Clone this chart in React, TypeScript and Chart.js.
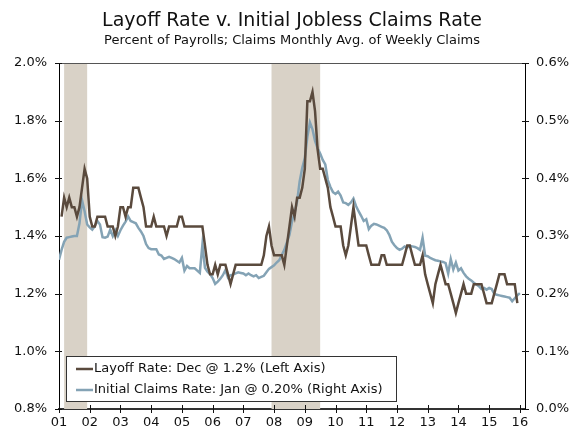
import React, { useEffect, useRef } from 'react';
import { Chart, registerables } from 'chart.js';

Chart.register(...registerables);

const FONT = '"DejaVu Sans", Verdana, sans-serif';

const TITLE = 'Layoff Rate v. Initial Jobless Claims Rate';
const SUBTITLE = 'Percent of Payrolls; Claims Monthly Avg. of Weekly Claims';
const LAYOFF_LABEL = 'Layoff Rate: Dec @ 1.2% (Left Axis)';
const CLAIMS_LABEL = 'Initial Claims Rate: Jan @ 0.20% (Right Axis)';

const FIRST_YEAR = 2001;
const YEAR_TICKS = [2001, 2002, 2003, 2004, 2005, 2006, 2007, 2008, 2009, 2010, 2011, 2012, 2013, 2014, 2015, 2016];
const X_MAX = 2016 + 2 / 12;
const LEFT_TICKS = [0.8, 1.0, 1.2, 1.4, 1.6, 1.8, 2.0];
const RIGHT_TICKS = [0, 0.1, 0.2, 0.3, 0.4, 0.5, 0.6];
const RECESSIONS: [number, number][] = [
  [2001 + 2 / 12, 2001 + 11 / 12],
  [2007 + 11 / 12, 2009 + 6 / 12],
];

// Layoff rate, % of payrolls (monthly, starting Feb 2001)
const LAYOFF_FIRST_MONTH = 1;
const layoffRate = [
  1.467, 1.533, 1.5, 1.533, 1.5, 1.5, 1.467, 1.5, 1.567, 1.633, 1.6,
  1.467, 1.433, 1.433, 1.467, 1.467, 1.467, 1.467, 1.433, 1.433, 1.433, 1.4, 1.433,
  1.5, 1.5, 1.467, 1.5, 1.5, 1.567, 1.567, 1.567, 1.533, 1.5, 1.433, 1.433,
  1.433, 1.467, 1.433, 1.433, 1.433, 1.433, 1.4, 1.433, 1.433, 1.433, 1.433, 1.467,
  1.467, 1.433, 1.433, 1.433, 1.433, 1.433, 1.433, 1.433, 1.433, 1.367, 1.3, 1.267,
  1.267, 1.3, 1.267, 1.3, 1.3, 1.3, 1.267, 1.233, 1.267, 1.3, 1.3, 1.3,
  1.3, 1.3, 1.3, 1.3, 1.3, 1.3, 1.3, 1.3, 1.333, 1.4, 1.433, 1.367,
  1.333, 1.333, 1.333, 1.333, 1.3, 1.367, 1.433, 1.5, 1.467, 1.533, 1.533, 1.567,
  1.633, 1.867, 1.867, 1.9, 1.833, 1.7, 1.633, 1.633, 1.6, 1.567, 1.5, 1.467,
  1.433, 1.433, 1.433, 1.367, 1.333, 1.367, 1.433, 1.5, 1.433, 1.367, 1.367, 1.367,
  1.367, 1.333, 1.3, 1.3, 1.3, 1.3, 1.333, 1.333, 1.3, 1.3, 1.3, 1.3,
  1.3, 1.3, 1.3, 1.333, 1.367, 1.367, 1.333, 1.3, 1.3, 1.3, 1.333, 1.267,
  1.233, 1.2, 1.167, 1.233, 1.267, 1.3, 1.267, 1.233, 1.233, 1.2, 1.167, 1.133,
  1.167, 1.2, 1.233, 1.2, 1.2, 1.2, 1.233, 1.233, 1.233, 1.233, 1.2, 1.167,
  1.167, 1.167, 1.2, 1.233, 1.267, 1.267, 1.267, 1.233, 1.233, 1.233, 1.233, 1.167,
];

// Initial claims rate, % (monthly avg of weekly claims, starting Jan 2001)
const CLAIMS_FIRST_MONTH = 0;
const claimsRate = [
  0.259, 0.276, 0.29, 0.297, 0.298, 0.299, 0.3, 0.3, 0.322, 0.362, 0.343, 0.32,
  0.315, 0.311, 0.317, 0.326, 0.32, 0.298, 0.297, 0.299, 0.311, 0.3, 0.31, 0.3,
  0.31, 0.318, 0.325, 0.334, 0.326, 0.324, 0.322, 0.314, 0.308, 0.3, 0.286, 0.279,
  0.277, 0.277, 0.277, 0.268, 0.266, 0.26, 0.262, 0.264, 0.262, 0.26, 0.257, 0.254,
  0.262, 0.24, 0.248, 0.244, 0.244, 0.244, 0.24, 0.236, 0.285, 0.245, 0.238, 0.234,
  0.227, 0.217, 0.221, 0.226, 0.232, 0.241, 0.228, 0.232, 0.233, 0.235, 0.237, 0.236,
  0.235, 0.232, 0.235, 0.232, 0.23, 0.232, 0.227, 0.229, 0.231, 0.237, 0.243, 0.246,
  0.249, 0.254, 0.258, 0.267, 0.276, 0.289, 0.302, 0.325, 0.34, 0.36, 0.395, 0.418,
  0.435, 0.472, 0.497, 0.485, 0.465, 0.452, 0.443, 0.432, 0.424, 0.397, 0.385, 0.376,
  0.373, 0.377, 0.37, 0.358, 0.357, 0.354, 0.358, 0.365, 0.352, 0.343, 0.335, 0.326,
  0.329, 0.312, 0.318, 0.321, 0.32, 0.318, 0.316, 0.314, 0.31, 0.302, 0.29, 0.284,
  0.279, 0.276, 0.278, 0.282, 0.28, 0.283, 0.282, 0.281, 0.279, 0.276, 0.297, 0.266,
  0.265, 0.262, 0.26, 0.258, 0.257, 0.256, 0.255, 0.253, 0.235, 0.26, 0.242, 0.254,
  0.24, 0.244, 0.236, 0.23, 0.226, 0.223, 0.219, 0.216, 0.213, 0.208, 0.21, 0.207,
  0.21, 0.208, 0.2, 0.198, 0.197, 0.196, 0.195, 0.194, 0.193, 0.187, 0.192, 0.197,
  0.201,
];

const LAYOFF_COLOR = '#5a4a3d';
const CLAIMS_COLOR = '#84a3b5';
const SHADE_COLOR = '#d9d2c7';

const toPoints = (values: number[], firstMonth: number) =>
  values.map((v, i) => ({ x: FIRST_YEAR + (firstMonth + i) / 12, y: v }));

const decorPlugin = {
  id: 'decor',
  beforeDatasetsDraw(chart: any) {
    const { ctx, chartArea: a, scales } = chart;
    ctx.save();
    ctx.fillStyle = SHADE_COLOR;
    for (const [s, e] of RECESSIONS) {
      const x1 = scales.x.getPixelForValue(s);
      const x2 = scales.x.getPixelForValue(e);
      ctx.fillRect(x1, a.top, x2 - x1, a.bottom - a.top);
    }
    ctx.restore();
  },
  afterDraw(chart: any) {
    const { ctx, chartArea: a, scales } = chart;
    ctx.save();
    // top frame line
    ctx.strokeStyle = '#555';
    ctx.lineWidth = 1;
    ctx.beginPath();
    ctx.moveTo(a.left, Math.round(a.top) + 0.5);
    ctx.lineTo(a.right, Math.round(a.top) + 0.5);
    ctx.stroke();
    // cross tick marks
    ctx.strokeStyle = '#111';
    ctx.beginPath();
    for (const t of YEAR_TICKS) {
      const x = Math.round(scales.x.getPixelForValue(t)) + 0.5;
      ctx.moveTo(x, a.bottom - 4);
      ctx.lineTo(x, a.bottom + 4);
    }
    for (const t of LEFT_TICKS) {
      const y = Math.round(scales.y.getPixelForValue(t)) + 0.5;
      ctx.moveTo(a.left - 4, y);
      ctx.lineTo(a.left + 3, y);
    }
    for (const t of RIGHT_TICKS) {
      const y = Math.round(scales.y2.getPixelForValue(t)) + 0.5;
      ctx.moveTo(a.right - 3, y);
      ctx.lineTo(a.right + 4, y);
    }
    ctx.stroke();
    // titles
    ctx.fillStyle = '#111';
    ctx.textAlign = 'center';
    ctx.textBaseline = 'middle';
    ctx.font = `19px ${FONT}`;
    ctx.fillText(TITLE, chart.width / 2, 21);
    ctx.font = `13px ${FONT}`;
    ctx.fillText(SUBTITLE, chart.width / 2, 41);
    // legend box
    const bx = 66.5, by = 356.5, bw = 330, bh = 45;
    ctx.fillStyle = '#fff';
    ctx.fillRect(bx, by, bw, bh);
    ctx.strokeStyle = '#333';
    ctx.lineWidth = 1;
    ctx.strokeRect(bx, by, bw, bh);
    const items = [
      { label: LAYOFF_LABEL, color: LAYOFF_COLOR, y: 369 },
      { label: CLAIMS_LABEL, color: CLAIMS_COLOR, y: 390 },
    ];
    ctx.textAlign = 'left';
    ctx.font = `13px ${FONT}`;
    for (const it of items) {
      ctx.strokeStyle = it.color;
      ctx.lineWidth = 2.5;
      ctx.beginPath();
      ctx.moveTo(76, it.y);
      ctx.lineTo(93, it.y);
      ctx.stroke();
      ctx.fillStyle = '#111';
      ctx.fillText(it.label, 94, it.y);
    }
    ctx.restore();
  },
};

export default function App() {
  const canvasRef = useRef<HTMLCanvasElement | null>(null);

  useEffect(() => {
    document.body.style.margin = '0';
    const canvas = canvasRef.current;
    if (!canvas) return;
    const tickFont = { family: FONT, size: 13 };
    const chart = new Chart(canvas, {
      type: 'line',
      data: {
        datasets: [
          {
            label: LAYOFF_LABEL,
            data: toPoints(layoffRate, LAYOFF_FIRST_MONTH),
            borderColor: LAYOFF_COLOR,
            borderWidth: 2.5,
            pointRadius: 0,
            tension: 0,
            yAxisID: 'y',
          },
          {
            label: CLAIMS_LABEL,
            data: toPoints(claimsRate, CLAIMS_FIRST_MONTH),
            borderColor: CLAIMS_COLOR,
            borderWidth: 2.5,
            pointRadius: 0,
            tension: 0,
            yAxisID: 'y2',
          },
        ],
      },
      options: {
        animation: false,
        responsive: false,
        devicePixelRatio: 1,
        layout: { padding: { top: 63, left: 0, right: 0, bottom: 0 } },
        plugins: { legend: { display: false }, tooltip: { enabled: false }, title: { display: false } },
        scales: {
          x: {
            type: 'linear',
            min: FIRST_YEAR,
            max: X_MAX,
            grid: { display: false, drawTicks: false },
            border: { display: true, color: '#333', width: 2 },
            afterBuildTicks: (s: any) => {
              s.ticks = YEAR_TICKS.map((v) => ({ value: v }));
            },
            afterFit: (s: any) => {
              s.height = 22;
            },
            ticks: {
              autoSkip: false,
              maxRotation: 0,
              padding: 6,
              color: '#111',
              font: tickFont,
              callback: (v: any) => String(v).slice(2),
            },
          },
          y: {
            type: 'linear',
            position: 'left',
            min: 0.8,
            max: 2.0,
            grid: { display: false, drawTicks: false },
            border: { display: true, color: '#000', width: 1 },
            afterBuildTicks: (s: any) => {
              s.ticks = LEFT_TICKS.map((v) => ({ value: v }));
            },
            afterFit: (s: any) => {
              s.width = 59;
            },
            ticks: {
              padding: 12,
              color: '#111',
              font: tickFont,
              callback: (v: any) => Number(v).toFixed(1) + '%',
            },
          },
          y2: {
            type: 'linear',
            position: 'right',
            min: 0,
            max: 0.6,
            grid: { display: false, drawTicks: false },
            border: { display: true, color: '#000', width: 1 },
            afterBuildTicks: (s: any) => {
              s.ticks = RIGHT_TICKS.map((v) => ({ value: v }));
            },
            afterFit: (s: any) => {
              s.width = 59;
            },
            ticks: {
              padding: 11,
              color: '#111',
              font: tickFont,
              callback: (v: any) => Number(v).toFixed(1) + '%',
            },
          },
        },
      },
      plugins: [decorPlugin],
    });
    return () => chart.destroy();
  }, []);

  return (
    <div style={{ width: 584, height: 431, position: 'relative' }}>
      <canvas ref={canvasRef} width={584} height={431} style={{ display: 'block' }} />
    </div>
  );
}
